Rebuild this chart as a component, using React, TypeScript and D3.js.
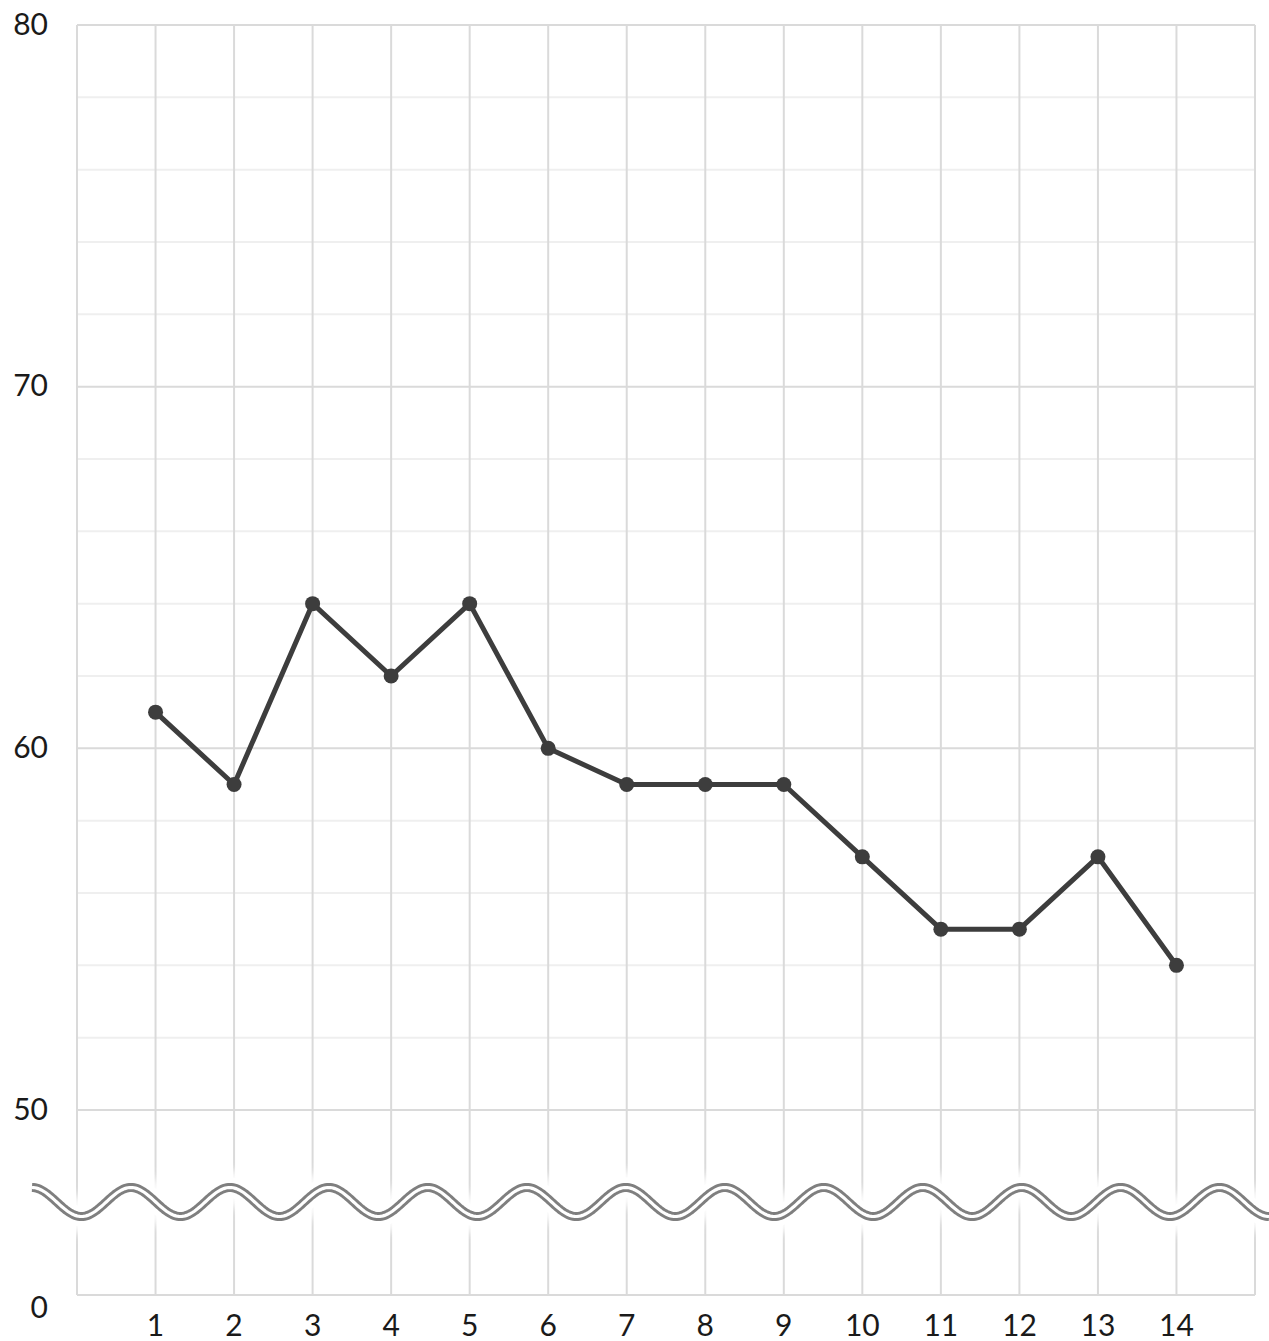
import React from "react";
import * as d3 from "d3";

const categories = ["1", "2", "3", "4", "5", "6", "7", "8", "9", "10", "11", "12", "13", "14"];
const values = [61, 59, 64, 62, 64, 60, 59, 59, 59, 57, 55, 55, 57, 54];
const yTickLabels = [0, 50, 60, 70, 80];
const minorTicks = [52, 54, 56, 58, 62, 64, 66, 68, 72, 74, 76, 78];

const W = 1269;
const H = 1341;
const left = 77;
const right = 1255;
const top = 25;
const bottom = 1295;

export default function App() {
  const x = d3.scaleLinear().domain([0, categories.length + 1]).range([left, right]);
  const y = d3.scaleLinear().domain([0, 50, 80]).range([bottom, 1110, top]);

  const line = d3
    .line<number>()
    .x((_, i) => x(i + 1))
    .y((d) => y(d));

  // decorative axis-break wave
  const waveX0 = 32;
  const waveX1 = 1269;
  const periods = 12.5;
  const waveCenter = 1202;
  const amp = 14.5;
  const wavePts = d3.range(0, 801).map((k) => {
    const t = k / 800;
    const xx = waveX0 + t * (waveX1 - waveX0);
    const yy = waveCenter - amp * Math.cos(2 * Math.PI * periods * t);
    return [xx, yy] as [number, number];
  });
  const wavePath = d3.line()(wavePts) || "";

  const font = "Lato, 'Noto Sans', sans-serif";

  return (
    <svg
      width={W}
      height={H}
      style={{ position: "absolute", left: 0, top: 0, background: "#fff" }}
    >
      <defs>
        <filter id="blur" x="-10%" y="-200%" width="120%" height="500%">
          <feGaussianBlur stdDeviation="5" />
        </filter>
      </defs>
      <rect x={0} y={0} width={W} height={H} fill="#fff" />
      {minorTicks.map((v) => (
        <line key={"m" + v} x1={left} x2={right} y1={y(v)} y2={y(v)} stroke="#efefef" strokeWidth={2} />
      ))}
      {yTickLabels.map((v) => (
        <line key={"M" + v} x1={left} x2={right} y1={y(v)} y2={y(v)} stroke="#dadada" strokeWidth={2} />
      ))}
      {d3.range(0, categories.length + 2).map((i) => (
        <line key={"v" + i} x1={x(i)} x2={x(i)} y1={top} y2={bottom} stroke="#dadada" strokeWidth={2} />
      ))}
      <path d={wavePath} fill="none" stroke="#fff" strokeWidth={34} filter="url(#blur)" opacity={0.95} />
      <path d={wavePath} fill="none" stroke="#fff" strokeWidth={20} />
      <path d={wavePath} fill="none" stroke="#7f7f7f" strokeWidth={9} />
      <path d={wavePath} fill="none" stroke="#fff" strokeWidth={3.2} />
      <path d={line(values) || ""} fill="none" stroke="#3d3d3d" strokeWidth={5} strokeLinejoin="round" />
      {values.map((v, i) => (
        <circle key={"c" + i} cx={x(i + 1)} cy={y(v)} r={7.5} fill="#3d3d3d" />
      ))}
      {yTickLabels.map((v) => (
        <text
          key={"yl" + v}
          x={48}
          y={v === 0 ? y(v) + 15 : y(v) + 2}
          textAnchor="end"
          dominantBaseline="middle"
          fontFamily={font}
          fontSize={30}
          fill="#1a1a1a"
        >
          {v}
        </text>
      ))}
      {categories.map((c, i) => (
        <text
          key={"xl" + c}
          x={x(i + 1)}
          y={1328}
          textAnchor="middle"
          dominantBaseline="middle"
          fontFamily={font}
          fontSize={30}
          fill="#1a1a1a"
        >
          {c}
        </text>
      ))}
    </svg>
  );
}
